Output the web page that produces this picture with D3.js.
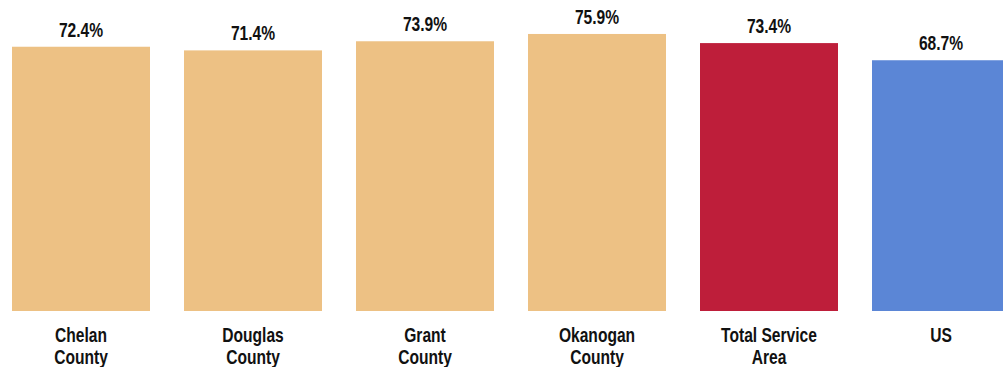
<!DOCTYPE html>
<html><head><meta charset="utf-8">
<script src="https://cdn.jsdelivr.net/npm/d3@7"></script>
<style>
html,body{margin:0;padding:0;background:#fff;overflow:hidden;}
text{font-family:"Liberation Sans",Arial,sans-serif;font-weight:bold;fill:#111;}
</style></head>
<body><svg id="c" width="1003" height="367"></svg>
<script>
const categories = ["Chelan County", "Douglas County", "Grant County", "Okanogan County", "Total Service Area", "US"];
const labelLines = [["Chelan","County"],["Douglas","County"],["Grant","County"],["Okanogan","County"],["Total Service","Area"],["US"]];
const values = [72.4, 71.4, 73.9, 75.9, 73.4, 68.7];
const colors = ["#EDC184","#EDC184","#EDC184","#EDC184","#BE1E3A","#5B86D6"];

const svg = d3.select("#c");
const x = d3.scaleBand().domain(categories).range([12, 1010]).paddingInner(34/172).paddingOuter(0);
const y = d3.scaleLinear().domain([0, 100]).range([311, -54]);
const sx = 0.8;

svg.selectAll("rect.bar").data(values).join("rect")
  .attr("x", (d,i) => x(categories[i]))
  .attr("width", x.bandwidth())
  .attr("y", d => y(d))
  .attr("height", d => y(0) - y(d))
  .attr("fill", (d,i) => colors[i]);

svg.selectAll("text.val").data(values).join("text")
  .attr("class","val")
  .attr("transform", (d,i) => `translate(${x(categories[i]) + x.bandwidth()/2},${y(d) - 10}) scale(${sx},1)`)
  .attr("text-anchor","middle")
  .style("font-size","19.5px")
  .text(d => d.toFixed(1) + "%");

const g = svg.selectAll("text.cat").data(categories).join("text")
  .attr("class","cat")
  .attr("text-anchor","middle")
  .style("font-size","19.5px")
  .attr("transform", d => `translate(${x(d) + x.bandwidth()/2},342) scale(${sx},1)`);
g.each(function(d,i){
  const t = d3.select(this);
  labelLines[i].forEach((ln,j) => {
    t.append("tspan").attr("x", 0).attr("dy", j === 0 ? 0 : 22).text(ln);
  });
});
</script></body></html>
